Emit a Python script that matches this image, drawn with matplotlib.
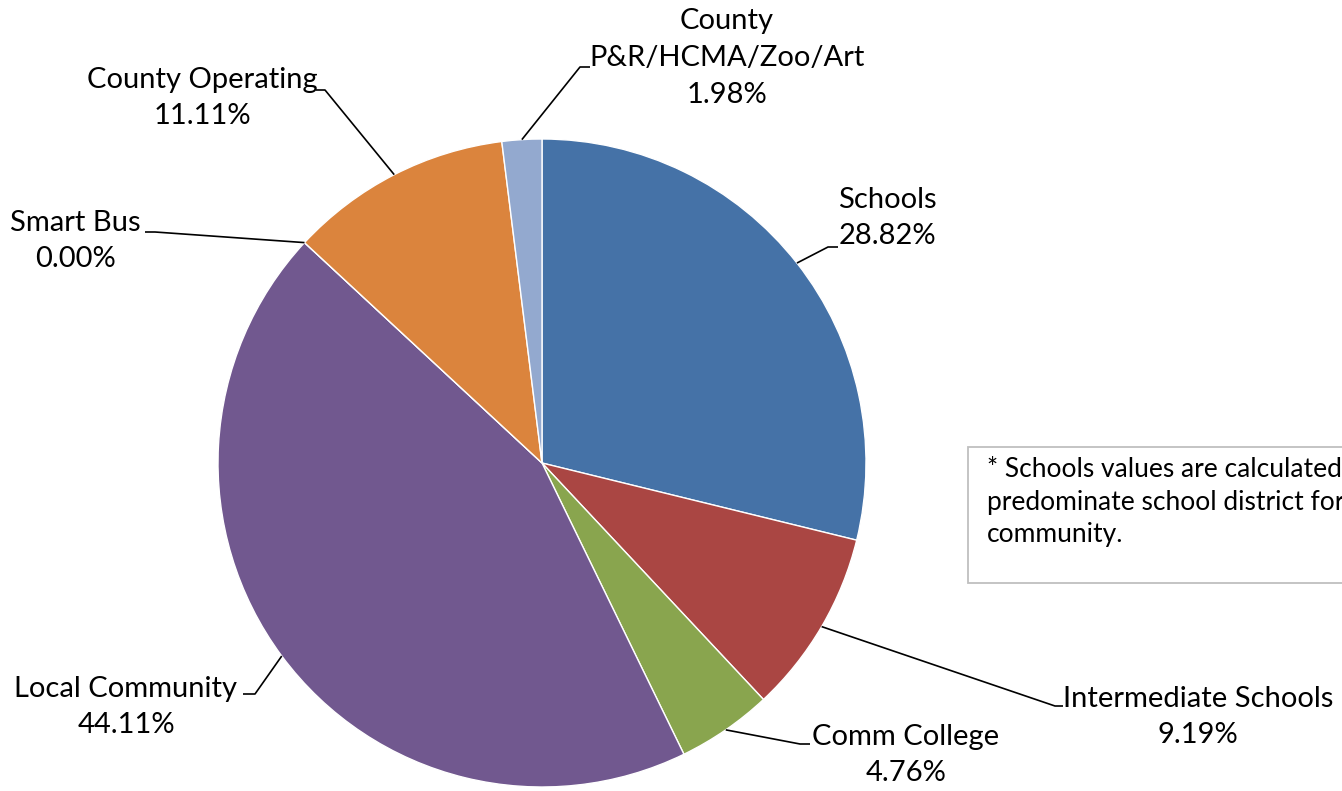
"""Tax share pie chart with callout labels."""

import numpy as np
import matplotlib
matplotlib.use("Agg")
from matplotlib import pyplot as plt
from matplotlib.patches import Rectangle

labels = ["Schools", "Intermediate Schools", "Comm College", "Local Community",
          "Smart Bus", "County Operating", "County\nP&R/HCMA/Zoo/Art"]
shares = [28.82, 9.19, 4.76, 44.11, 0.00, 11.11, 1.98]
colors = ["#4572A7", "#AA4643", "#89A54E", "#71588F",
          "#4BACC6", "#DB843D", "#93A9CF"]
note = "* Schools values are calculated using the\npredominate school district for each\ncommunity."

# pixel geometry of the reference (center and radius of the pie)
W, H = 1342, 791
CX, CY, R = 542, 463, 324


def px(x, y):
    """Convert reference pixel coords to data coords (pie radius = 1)."""
    return (x - CX) / R, (CY - y) / R


# label layout: text center, elbow of leader, end of the short horizontal tick
label_layout = [
    dict(text=(887, 218), elbow=(828, 247), tick=(838, 247)),
    dict(text=(1198, 717), elbow=(1055, 706), tick=(1063, 706)),
    dict(text=(906, 755), elbow=(800, 744), tick=(810, 744)),
    dict(text=(126, 707), elbow=(255, 694), tick=(243, 694)),
    dict(text=(75, 241), elbow=(155, 232), tick=(145, 232)),
    dict(text=(202, 98), elbow=(325, 90), tick=(316, 90)),
    dict(text=(727, 58), elbow=(580, 67), tick=(590, 67)),
]

plt.rcParams['font.family'] = ['Lato', 'DejaVu Sans']

fig = plt.figure(figsize=(W / 100, H / 100), dpi=100)
ax = fig.add_axes([0, 0, 1, 1])

wedges, _ = ax.pie(shares, colors=colors, startangle=90, counterclock=False,
                   radius=1, center=(0, 0), frame=True,
                   wedgeprops=dict(edgecolor='white', linewidth=1.0))
ax.set_xlim(-CX / R, (W - CX) / R)
ax.set_ylim(-(H - CY) / R, CY / R)
ax.set_aspect('equal')
ax.axis('off')

for w, lab, val, lay in zip(wedges, labels, shares, label_layout):
    mid = np.deg2rad((w.theta1 + w.theta2) / 2)
    ex, ey = np.cos(mid), np.sin(mid)
    bx, by = px(*lay['elbow'])
    tx, ty = px(*lay['tick'])
    ax.plot([ex, bx, tx], [ey, by, ty], color='black', lw=1.2,
            solid_capstyle='butt', zorder=3)
    lx, ly = px(*lay['text'])
    ax.text(lx, ly, f"{lab}\n{val:.2f}%", ha='center', va='center',
            fontsize=21, linespacing=1.52, color='black')

# note box at the right edge (clipped by the figure, as in the source)
bx0, by0 = px(968, 583)
bx1, by1 = px(1360, 447)
ax.add_patch(Rectangle((bx0, by0), bx1 - bx0, by1 - by0, facecolor='white',
                       edgecolor='#BFBFBF', lw=1.3, zorder=1))
nx, ny = px(987, 456)
ax.text(nx, ny, note, ha='left', va='top', fontsize=19, linespacing=1.38,
        color='black')

fig.savefig("out.png", dpi=100)
